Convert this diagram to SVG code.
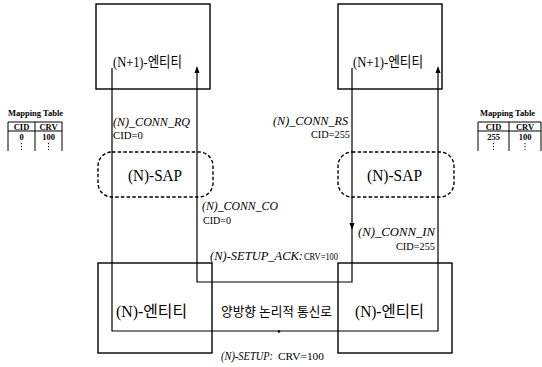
<svg xmlns="http://www.w3.org/2000/svg" width="542" height="367" viewBox="0 0 542 367">
<style>
.box{fill:none;stroke:#000;stroke-width:1.4}
.ln{fill:none;stroke:#000;stroke-width:1.2}
.sap{fill:none;stroke:#000;stroke-width:1.4;stroke-dasharray:3.5 2.2}
.ah{fill:#000}
.k{font-family:"Liberation Serif","Noto Sans CJK KR",serif;fill:#000}
.it{font-family:"Liberation Serif",serif;font-style:italic;font-size:11.5px;fill:#000}
.sm{font-family:"Liberation Serif",serif;font-size:10.5px;fill:#000}
.mt{font-family:"Liberation Serif",serif;font-weight:bold;font-size:8.5px;fill:#000}
.tb{fill:none;stroke:#000;stroke-width:1}
</style>
<rect width="542" height="367" fill="#fff"/>
<g id="connectors">
  <path class="ln" d="M112,68 V331 H438 V68"/>
  <path class="ln" d="M197,68 V282 H352 V68"/>
  <polygon class="ah" points="197,66 194.5,73 199.5,73"/>
  <polygon class="ah" points="438,66 435.5,73 440.5,73"/>
  <polygon class="ah" points="352,230 349.5,223 354.5,223"/>
  <circle class="ah" cx="279" cy="331.5" r="1.3"/>
  <text class="it" x="113" y="126" textLength="77" lengthAdjust="spacingAndGlyphs">(N)_CONN_RQ</text>
  <text class="sm" x="113" y="139" textLength="30" lengthAdjust="spacingAndGlyphs">CID=0</text>
  <text class="it" x="273" y="125" textLength="75" lengthAdjust="spacingAndGlyphs">(N)_CONN_RS</text>
  <text class="sm" x="311" y="138" textLength="39" lengthAdjust="spacingAndGlyphs">CID=255</text>
  <text class="it" x="202" y="210" textLength="76" lengthAdjust="spacingAndGlyphs">(N)_CONN_CO</text>
  <text class="sm" x="203" y="224" textLength="28" lengthAdjust="spacingAndGlyphs">CID=0</text>
  <text class="it" x="358" y="236" textLength="77" lengthAdjust="spacingAndGlyphs">(N)_CONN_IN</text>
  <text class="sm" x="396" y="250" textLength="39" lengthAdjust="spacingAndGlyphs">CID=255</text>
  <text class="it" x="210" y="260" textLength="93" lengthAdjust="spacingAndGlyphs">(N)-SETUP_ACK:</text>
  <text class="sm" x="304" y="260" textLength="34" lengthAdjust="spacingAndGlyphs">CRV=100</text>
  <text class="it" x="221" y="360" textLength="52" lengthAdjust="spacingAndGlyphs">(N)-SETUP:</text>
  <text class="sm" x="278" y="360" textLength="46" lengthAdjust="spacingAndGlyphs">CRV=100</text>
</g>
<g id="n1-left">
  <rect class="box" x="96" y="4" width="114" height="85"/>
  <text class="k" x="113" y="67" font-size="15" textLength="69" lengthAdjust="spacingAndGlyphs">(N+1)-엔티티</text>
</g>
<g id="n1-right">
  <rect class="box" x="338" y="4" width="104" height="85"/>
  <text class="k" x="353" y="67" font-size="15" textLength="70" lengthAdjust="spacingAndGlyphs">(N+1)-엔티티</text>
</g>
<g id="sap-left">
  <rect class="sap" x="98" y="152" width="115" height="45" rx="14"/>
  <text class="k" x="128" y="181" font-size="16" textLength="54" lengthAdjust="spacingAndGlyphs">(N)-SAP</text>
</g>
<g id="sap-right">
  <rect class="sap" x="338" y="152" width="116" height="45" rx="14"/>
  <text class="k" x="367" y="181" font-size="16" textLength="55" lengthAdjust="spacingAndGlyphs">(N)-SAP</text>
</g>
<g id="n-left">
  <rect class="box" x="98" y="263" width="114" height="90"/>
  <text class="k" x="116" y="317" font-size="16" textLength="71" lengthAdjust="spacingAndGlyphs">(N)-엔티티</text>
</g>
<g id="n-right">
  <rect class="box" x="338" y="263" width="114" height="90"/>
  <text class="k" x="355" y="317" font-size="16" textLength="69" lengthAdjust="spacingAndGlyphs">(N)-엔티티</text>
</g>
<g id="channel">
  <text class="k" x="221" y="316" font-size="13" textLength="111" lengthAdjust="spacingAndGlyphs">양방향 논리적 통신로</text>
</g>
<g id="table-left">
  <text class="mt" x="8" y="116">Mapping Table</text>
  <path class="tb" d="M8,151 V122 H62 V151 M8,131 H62 M35,122 V151"/>
  <text class="mt" x="21.5" y="129.5" text-anchor="middle">CID</text>
  <text class="mt" x="48.5" y="129.5" text-anchor="middle">CRV</text>
  <text class="mt" x="21.5" y="140" text-anchor="middle">0</text>
  <text class="mt" x="48.5" y="140" text-anchor="middle">100</text>
  <path class="tb" d="M21.5,143 V150 M48.5,143 V150" stroke-dasharray="1.2 1.8"/>
</g>
<g id="table-right">
  <text class="mt" x="480" y="116">Mapping Table</text>
  <path class="tb" d="M478,151 V122 H541 V151 M478,131 H541 M509,122 V151"/>
  <text class="mt" x="493.5" y="129.5" text-anchor="middle">CID</text>
  <text class="mt" x="525" y="129.5" text-anchor="middle">CRV</text>
  <text class="mt" x="493.5" y="140" text-anchor="middle">255</text>
  <text class="mt" x="525" y="140" text-anchor="middle">100</text>
  <path class="tb" d="M493.5,143 V150 M525,143 V150" stroke-dasharray="1.2 1.8"/>
</g>
</svg>
